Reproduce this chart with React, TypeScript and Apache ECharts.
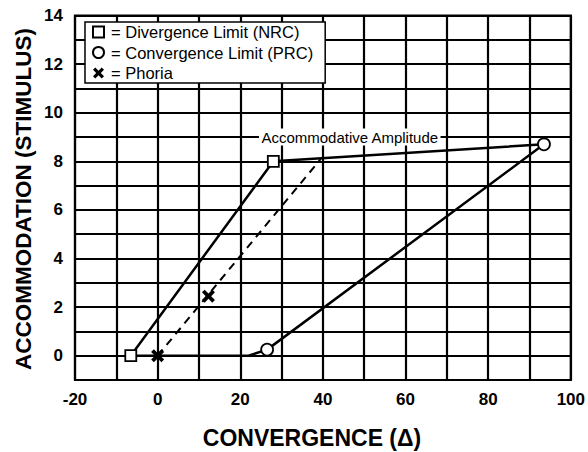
import React, { useEffect, useRef } from "react";
import * as echarts from "echarts";

// Divergence limit (NRC) points
const nrcX = [-6.5, 28];
const nrcY = [0, 8];
// Convergence limit (PRC) points
const prcX = [26.5, 93.5];
const prcY = [0.25, 8.7];
// Phoria points
const phoriaX = [0, 12.3];
const phoriaY = [0, 2.45];
// Zone of clear single binocular vision outline
const zoneX = [-6.5, 28, 93.5, 26.5, 22, -6.5];
const zoneY = [0, 8, 8.7, 0.25, 0, 0];
// Phoria line (dashed)
const phoriaLineX = [0, 39.5];
const phoriaLineY = [0, 8.1];
// Annotation
const annotX = [46.5];
const annotY = [9];
const annotText = "Accommodative Amplitude";

const legendNames = ["Divergence Limit (NRC)", "Convergence Limit (PRC)", "Phoria"];

const zip = (xs: number[], ys: number[]) => xs.map((x, i) => [x, ys[i]]);

const X_PATH =
  "path://M0,2.5 L2.5,0 L6,3.5 L9.5,0 L12,2.5 L8.5,6 L12,9.5 L9.5,12 L6,8.5 L2.5,12 L0,9.5 L3.5,6 Z";

const FONT = "Arial, 'Liberation Sans', Helvetica, sans-serif";

export default function App() {
  const ref = useRef<HTMLDivElement>(null);
  useEffect(() => {
    if (!ref.current) return;
    const chart = echarts.init(ref.current, undefined, { renderer: "svg" });
    chart.setOption({
      animation: false,
      backgroundColor: "#fff",
      grid: {
        left: 75,
        right: 14,
        top: 15.5,
        bottom: 72,
        show: true,
        borderColor: "#000",
        borderWidth: 2.2,
      },
      xAxis: {
        type: "value",
        min: -20,
        max: 100,
        interval: 10,
        axisLine: { show: false },
        axisTick: { show: false },
        splitLine: { show: true, lineStyle: { color: "#000", width: 2.2 } },
        axisLabel: {
          margin: 11,
          color: "#000",
          fontFamily: FONT,
          fontWeight: "bold",
          fontSize: 17,
          formatter: (v: number) => (v % 20 === 0 ? String(v) : ""),
        },
      },
      yAxis: {
        type: "value",
        min: -1,
        max: 14,
        interval: 1,
        axisLine: { show: false },
        axisTick: { show: false },
        splitLine: { show: true, lineStyle: { color: "#000", width: 2.2 } },
        axisLabel: {
          margin: 12,
          color: "#000",
          fontFamily: FONT,
          fontWeight: "bold",
          fontSize: 17,
          formatter: (v: number) => (v >= 0 && v % 2 === 0 ? String(v) : ""),
        },
      },
      legend: {
        data: legendNames,
        orient: "vertical",
        left: 85,
        top: 22,
        backgroundColor: "#fff",
        borderColor: "#000",
        borderWidth: 1.5,
        borderRadius: 0,
        padding: [1.5, 12, 1.5, 7],
        itemGap: 3.5,
        itemWidth: 11,
        itemHeight: 11,
        selectedMode: false,
        formatter: (name: string) => "= " + name,
        textStyle: {
          color: "#000",
          fontFamily: FONT,
          fontSize: 16.5,
          padding: [0, 0, 0, 2],
        },
      },
      graphic: [
        {
          type: "text",
          x: 23,
          y: 199,
          rotation: Math.PI / 2,
          style: {
            text: "ACCOMMODATION (STIMULUS)",
            fill: "#000",
            font: `bold 22.5px ${FONT}`,
            textAlign: "center",
            textVerticalAlign: "middle",
          },
        },
        {
          type: "text",
          x: 312,
          y: 438,
          style: {
            text: "CONVERGENCE (\u0394)",
            fill: "#000",
            font: `bold 23px ${FONT}`,
            textAlign: "center",
            textVerticalAlign: "middle",
          },
        },
      ],
      series: [
        {
          type: "line",
          data: zip(zoneX, zoneY),
          symbol: "none",
          silent: true,
          z: 2,
          lineStyle: { color: "#000", width: 2.5 },
        },
        {
          type: "line",
          data: zip(phoriaLineX, phoriaLineY),
          symbol: "none",
          silent: true,
          z: 2,
          lineStyle: { color: "#000", width: 2, type: [8, 6] },
        },
        {
          name: legendNames[0],
          type: "scatter",
          data: zip(nrcX, nrcY),
          symbol: "rect",
          symbolSize: 11,
          z: 4,
          itemStyle: { color: "#fff", borderColor: "#000", borderWidth: 1.8, opacity: 1 },
        },
        {
          name: legendNames[1],
          type: "scatter",
          data: zip(prcX, prcY),
          symbol: "circle",
          symbolSize: 12,
          z: 4,
          itemStyle: { color: "#fff", borderColor: "#000", borderWidth: 1.8, opacity: 1 },
        },
        {
          name: legendNames[2],
          type: "scatter",
          data: zip(phoriaX, phoriaY),
          symbol: X_PATH,
          symbolSize: 13,
          z: 4,
          itemStyle: { color: "#000", opacity: 1 },
        },
        {
          type: "scatter",
          data: zip(annotX, annotY),
          symbolSize: 0,
          silent: true,
          z: 5,
          itemStyle: { opacity: 1 },
          label: {
            show: true,
            position: "inside",
            formatter: annotText,
            color: "#000",
            opacity: 1,
            fontFamily: FONT,
            fontSize: 15,
            backgroundColor: "#fff",
            padding: [1, 2],
          },
        },
      ],
    });
    return () => chart.dispose();
  }, []);
  return (
    <div
      ref={ref}
      style={{ position: "absolute", left: 0, top: 0, width: 588, height: 452 }}
    />
  );
}
